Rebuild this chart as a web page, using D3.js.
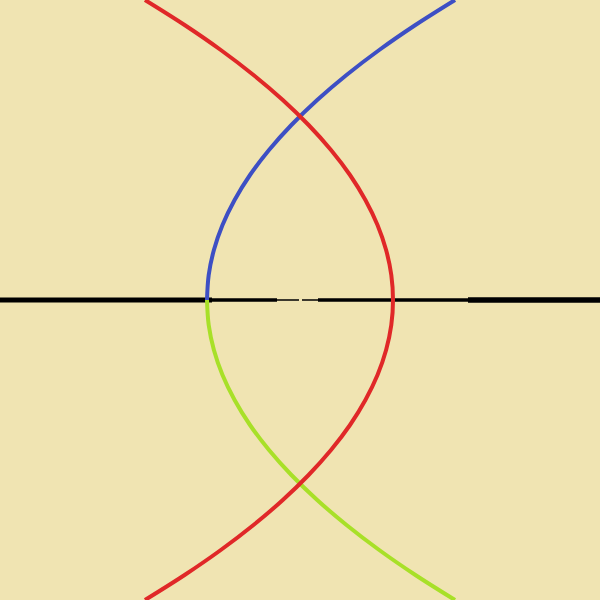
<!DOCTYPE html>
<html>
<head>
<meta charset="utf-8">
<script src="https://cdn.jsdelivr.net/npm/d3@7"></script>
<style>
html,body{margin:0;padding:0;background:#f0e4b2;}
svg{display:block;}
</style>
</head>
<body>
<svg id="chart" width="600" height="600"></svg>
<script>
// Red locus (upper half); lower half mirrors it
const redY = [0, 0.25, 0.5, 0.75, 1.0, 1.25, 1.5, 1.75, 2.0, 2.25, 2.5, 2.75, 3.0];
const redX = [0.93, 0.913, 0.861, 0.775, 0.654, 0.50, 0.31, 0.086, -0.172, -0.465, -0.792, -1.154, -1.55];
// Blue locus (upper branch) and green locus (lower branch)
const blueY = [0, 0.25, 0.5, 0.75, 1.0, 1.25, 1.5, 1.75, 2.0, 2.25, 2.5, 2.75, 3.0];
const blueX = [-0.93, -0.913, -0.861, -0.775, -0.654, -0.50, -0.31, -0.086, 0.172, 0.465, 0.792, 1.154, 1.55];
const greenY = [0, -0.25, -0.5, -0.75, -1.0, -1.25, -1.5, -1.75, -2.0, -2.25, -2.5, -2.75, -3.0];
const greenX = [-0.93, -0.913, -0.861, -0.775, -0.654, -0.50, -0.31, -0.086, 0.172, 0.465, 0.792, 1.154, 1.55];
// Real-axis segments: start, end, weight
const axisStart = [-3.0, -0.88, -0.23, 0.02, 0.18, 1.68];
const axisEnd   = [-0.88, -0.23, -0.01, 0.18, 1.68, 3.0];
const axisWeight = [5, 3.5, 1.5, 1.5, 3.5, 5.5];

const svg = d3.select("#chart");
const W = 600, H = 600;
const x = d3.scaleLinear().domain([-3, 3]).range([0, W]);
const y = d3.scaleLinear().domain([-3, 3]).range([H, 0]);

svg.append("rect").attr("width", W).attr("height", H).attr("fill", "#f0e4b2");

const line = d3.line().x(d => x(d[0])).y(d => y(d[1])).curve(d3.curveCatmullRom.alpha(0.5));

// axis
const segs = axisStart.map((s, i) => ({s, e: axisEnd[i], w: axisWeight[i]}));
svg.selectAll("line.axis").data(segs).join("line")
  .attr("class", "axis")
  .attr("x1", d => x(d.s)).attr("x2", d => x(d.e))
  .attr("y1", y(0)).attr("y2", y(0))
  .attr("stroke", "#000").attr("stroke-width", d => d.w);

// red full curve
const redPts = [];
for (let i = redY.length - 1; i > 0; i--) redPts.push([redX[i], -redY[i]]);
for (let i = 0; i < redY.length; i++) redPts.push([redX[i], redY[i]]);

const bluePts = blueY.map((v, i) => [blueX[i], v]);
const greenPts = greenY.map((v, i) => [greenX[i], v]);

svg.append("path").datum(greenPts).attr("d", line)
  .attr("fill", "none").attr("stroke", "#a8e028").attr("stroke-width", 4);
svg.append("path").datum(bluePts).attr("d", line)
  .attr("fill", "none").attr("stroke", "#3d4fc4").attr("stroke-width", 4);
svg.append("path").datum(redPts).attr("d", line)
  .attr("fill", "none").attr("stroke", "#e02828").attr("stroke-width", 4);
</script>
</body>
</html>
